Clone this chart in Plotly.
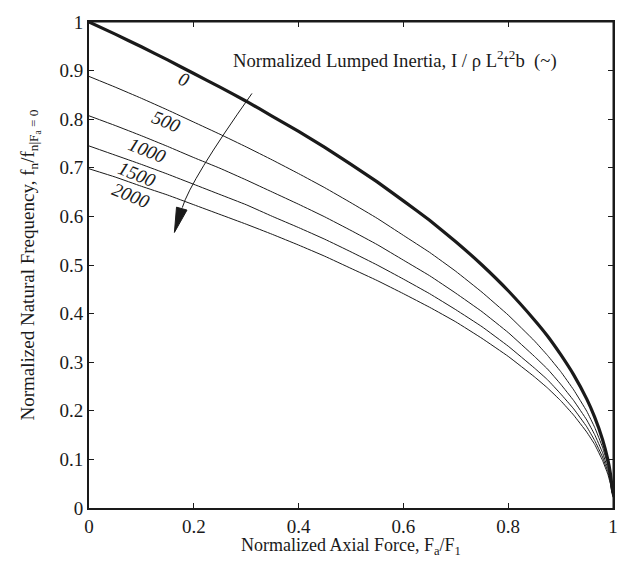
import plotly.graph_objects as go

# Normalized axial force samples
force = [0, 0.05, 0.1, 0.15, 0.2, 0.25, 0.3, 0.35, 0.4, 0.45, 0.5, 0.55, 0.6, 0.65, 0.7,
         0.75, 0.8, 0.85, 0.875, 0.9, 0.925, 0.95, 0.965, 0.98, 0.99, 0.995, 0.998, 1.0]

# Normalized natural frequency for each lumped inertia value
inertia_labels = ["0", "500", "1000", "1500", "2000"]
freq_0 = [1.0, 0.975, 0.949, 0.922, 0.894, 0.866, 0.837, 0.806, 0.775, 0.742, 0.707, 0.671, 0.632, 0.592,
          0.548, 0.500, 0.447, 0.387, 0.354, 0.316, 0.274, 0.224, 0.187, 0.141, 0.100, 0.071, 0.045, 0.032]
freq_500 = [0.888, 0.866, 0.843, 0.819, 0.794, 0.769, 0.743, 0.716, 0.688, 0.659, 0.628, 0.596, 0.561, 0.526,
            0.487, 0.444, 0.397, 0.344, 0.314, 0.281, 0.243, 0.199, 0.166, 0.125, 0.089, 0.063, 0.040, 0.028]
freq_1000 = [0.807, 0.787, 0.766, 0.744, 0.721, 0.699, 0.675, 0.650, 0.625, 0.599, 0.571, 0.542, 0.510, 0.478,
             0.442, 0.404, 0.361, 0.312, 0.286, 0.255, 0.221, 0.181, 0.151, 0.114, 0.081, 0.057, 0.036, 0.026]
freq_1500 = [0.745, 0.726, 0.707, 0.687, 0.666, 0.645, 0.624, 0.600, 0.577, 0.553, 0.527, 0.500, 0.471, 0.441,
             0.408, 0.373, 0.333, 0.288, 0.264, 0.235, 0.204, 0.167, 0.139, 0.105, 0.075, 0.053, 0.034, 0.024]
freq_2000 = [0.698, 0.681, 0.662, 0.644, 0.624, 0.604, 0.584, 0.563, 0.541, 0.518, 0.493, 0.468, 0.441, 0.413,
             0.383, 0.349, 0.312, 0.270, 0.247, 0.221, 0.191, 0.156, 0.131, 0.098, 0.070, 0.050, 0.031, 0.022]
series = [freq_0, freq_500, freq_1000, freq_1500, freq_2000]

# label anchor positions (data coords)
label_x = [0.182, 0.148, 0.112, 0.093, 0.081]
label_y = [0.881, 0.796, 0.735, 0.687, 0.644]

tick_vals_x = [0, 0.2, 0.4, 0.6, 0.8, 1]
tick_text_x = ["0", "0.2", "0.4", "0.6", "0.8", "1"]
tick_vals_y = [0, 0.1, 0.2, 0.3, 0.4, 0.5, 0.6, 0.7, 0.8, 0.9, 1]
tick_text_y = ["0", "0.1", "0.2", "0.3", "0.4", "0.5", "0.6", "0.7", "0.8", "0.9", "1"]

FONT = "Liberation Serif, Times New Roman, serif"
INK = "#1a1a1a"

fig = go.Figure()
for i, ys in enumerate(series):
    fig.add_trace(go.Scatter(
        x=force, y=ys, mode="lines",
        line=dict(color=INK, width=3.2 if i == 0 else 1, shape="spline", smoothing=0.3),
        showlegend=False, hoverinfo="skip"))

for lab, lx, ly in zip(inertia_labels, label_x, label_y):
    fig.add_annotation(x=lx, y=ly, xref="x", yref="y", text="<i>" + lab + "</i>", showarrow=False,
                       textangle=22, font=dict(family=FONT, size=19, color=INK),
                       xanchor="center", yanchor="middle")

fig.add_annotation(x=0.584, y=0.923, xref="x", yref="y",
                   text="Normalized Lumped Inertia, I / \u03c1 L<sup>2</sup>t<sup>2</sup>b\u00a0\u00a0(~)",
                   showarrow=False, font=dict(family=FONT, size=18.7, color=INK),
                   xanchor="center", yanchor="middle")

# curved arrow
fig.add_shape(type="path", xref="x", yref="y",
              path="M 0.311,0.853 Q 0.194,0.675 0.178,0.618",
              line=dict(color=INK, width=1))
fig.add_shape(type="path", xref="x", yref="y",
              path="M 0.167,0.619 L 0.163,0.567 L 0.187,0.613 Z",
              line=dict(color=INK, width=1), fillcolor=INK)

# top/right thin box lines
fig.add_shape(type="line", xref="paper", yref="paper", x0=0, x1=1, y0=1, y1=1,
              line=dict(color=INK, width=1))
fig.add_shape(type="line", xref="paper", yref="paper", x0=1, x1=1, y0=0, y1=1,
              line=dict(color=INK, width=1))

# axis titles
fig.add_annotation(x=0.5, y=-0.079, xref="paper", yref="paper",
                   text="Normalized Axial Force, F<sub>a</sub>/F<sub>1</sub>",
                   showarrow=False, font=dict(family=FONT, size=18, color=INK),
                   xanchor="center", yanchor="middle")
fig.add_annotation(x=-0.1117, y=0.5, xref="paper", yref="paper",
                   text="Normalized Natural Frequency, f<sub>n</sub>/f<sub>n|F<sub>a</sub> = 0</sub>",
                   showarrow=False, textangle=-90, font=dict(family=FONT, size=19, color=INK),
                   xanchor="center", yanchor="middle")

axis_common = dict(showgrid=False, zeroline=False, showline=True, linecolor=INK, linewidth=2,
                   ticks="inside", ticklen=5, tickwidth=1, tickcolor=INK, mirror="ticks",
                   tickfont=dict(family=FONT, size=19, color=INK))
fig.update_xaxes(range=[0, 1], tickvals=tick_vals_x, ticktext=tick_text_x, **axis_common)
fig.update_yaxes(range=[0, 1], tickvals=tick_vals_y, ticktext=tick_text_y, **axis_common)

fig.update_layout(width=630, height=564, margin=dict(l=89, r=13, t=14, b=56),
                  plot_bgcolor="white", paper_bgcolor="white")

fig.write_html("out.html")
